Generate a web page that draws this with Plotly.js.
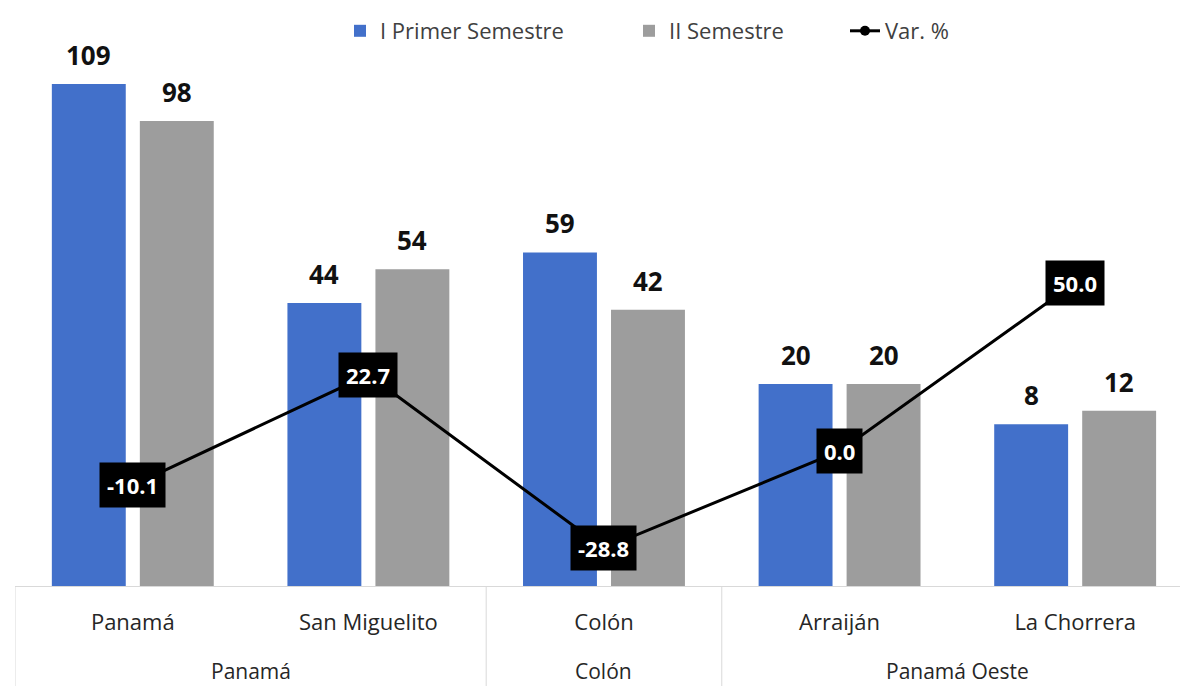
<!DOCTYPE html>
<html>
<head>
<meta charset="utf-8">
<script src="https://cdn.plot.ly/plotly-3.0.1.min.js"></script>
<style>html,body{margin:0;padding:0;background:#fff}#chart{width:1180px;height:686px}</style>
</head>
<body>
<div id="chart"></div>
<script>
// ---- data ----
var provincias = ["Panamá", "Panamá", "Colón", "Panamá Oeste", "Panamá Oeste"];
var distritos = ["Panamá", "San Miguelito", "Colón", "Arraiján", "La Chorrera"];
var primerSemestre = [109, 44, 59, 20, 8];
var segundoSemestre = [98, 54, 42, 20, 12];
var variacion = [-10.1, 22.7, -28.8, 0.0, 50.0];
var seriesNames = ["I Primer Semestre", "II Semestre", "Var. %"];

// ---- chart settings ----
var AXIS_MIN = -40, AXIS_MAX = 120;
var BARGAP = 0.253, BARGROUPGAP = 0.16;
var FONT = "'Open Sans', sans-serif";
var MT = 47, MB = 100, H = 686;
var plotH = H - MT - MB;
var idx = distritos.map(function (d, i) { return i; });

function barTrace(vals, name, color, legendId) {
  return {
    type: "bar", name: name, x: idx,
    base: AXIS_MIN,
    y: vals.map(function (v) { return v - AXIS_MIN; }),
    customdata: vals,
    hovertemplate: "%{customdata}<extra>" + name + "</extra>",
    marker: {color: color, line: {width: 0}},
    legend: legendId
  };
}

var traces = [
  barTrace(primerSemestre, seriesNames[0], "#4270CA", "legend"),
  barTrace(segundoSemestre, seriesNames[1], "#9D9D9D", "legend2"),
  {
    type: "scatter", mode: "lines+markers", name: seriesNames[2],
    x: idx, y: variacion,
    line: {color: "#000", width: 3},
    marker: {color: "#000", size: 10},
    cliponaxis: false,
    legend: "legend3"
  }
];

var annotations = [];
// bar value labels
var barOffset = (1 - BARGAP) / 4;
[[primerSemestre, -1], [segundoSemestre, 1]].forEach(function (s) {
  s[0].forEach(function (v, i) {
    annotations.push({
      x: i + s[1] * barOffset, y: v, xref: "x", yref: "y",
      text: "<b>" + v + "</b>", showarrow: false,
      font: {family: FONT, size: 26, color: "#111"},
      xanchor: "center", yanchor: "bottom", yshift: 9
    });
  });
});
// variation labels
variacion.forEach(function (v, i) {
  annotations.push({
    x: i, y: v, xref: "x", yref: "y",
    text: "<b>" + v.toFixed(1) + "</b>",
    showarrow: false,
    font: {family: FONT, size: 22, color: "#fff"},
    bgcolor: "#000", borderpad: 7,
    xanchor: "center", yanchor: "middle"
  });
});
// group (province) labels and dividers
var shapes = [];
var groups = [];
provincias.forEach(function (p, i) {
  if (i === 0 || p !== provincias[i - 1]) groups.push({name: p, start: i, end: i});
  else groups[groups.length - 1].end = i;
});
var yBottom = -MB / plotH;
groups.forEach(function (g, k) {
  annotations.push({
    x: (g.start + g.end) / 2, xref: "x",
    y: -85 / plotH, yref: "paper",
    text: g.name, showarrow: false,
    font: {family: FONT, size: 21, color: "#262626"},
    xanchor: "center", yanchor: "middle"
  });
  shapes.push({type: "line", xref: "x", yref: "paper",
    x0: g.start - 0.5, x1: g.start - 0.5, y0: 0, y1: yBottom,
    line: {color: "#d9d9d9", width: 1}});
  if (k === groups.length - 1) {
    shapes.push({type: "line", xref: "x", yref: "paper",
      x0: g.end + 0.5, x1: g.end + 0.5, y0: 0, y1: yBottom,
      line: {color: "#d9d9d9", width: 1}});
  }
});

function px2paper(px) { return (px - 15) / 1165; }
var legendBase = {
  orientation: "h", xanchor: "left", y: 1 + 16 / plotH, yanchor: "middle",
  font: {family: FONT, size: 22, color: "#404040"},
  bgcolor: "rgba(0,0,0,0)", borderwidth: 0
};

var layout = {
  width: 1180, height: H,
  margin: {l: 15, r: 0, t: MT, b: MB},
  paper_bgcolor: "#fff", plot_bgcolor: "#fff",
  font: {family: FONT, color: "#333"},
  barmode: "group", bargap: BARGAP, bargroupgap: BARGROUPGAP,
  showlegend: true,
  legend: Object.assign({}, legendBase, {x: px2paper(340)}),
  legend2: Object.assign({}, legendBase, {x: px2paper(629)}),
  legend3: Object.assign({}, legendBase, {x: px2paper(845)}),
  xaxis: {
    range: [-0.5, 4.445],
    tickmode: "array", tickvals: idx, ticktext: distritos,
    showline: true, linecolor: "#d9d9d9", linewidth: 1,
    ticks: "outside", ticklen: 17, tickcolor: "rgba(0,0,0,0)",
    showgrid: false, zeroline: false,
    tickfont: {family: FONT, size: 22, color: "#262626"}
  },
  yaxis: {
    range: [AXIS_MIN, AXIS_MAX], visible: false,
    showgrid: false, zeroline: false
  },
  annotations: annotations,
  shapes: shapes
};

Plotly.newPlot("chart", traces, layout, {displayModeBar: false, staticPlot: true});
</script>
</body>
</html>
